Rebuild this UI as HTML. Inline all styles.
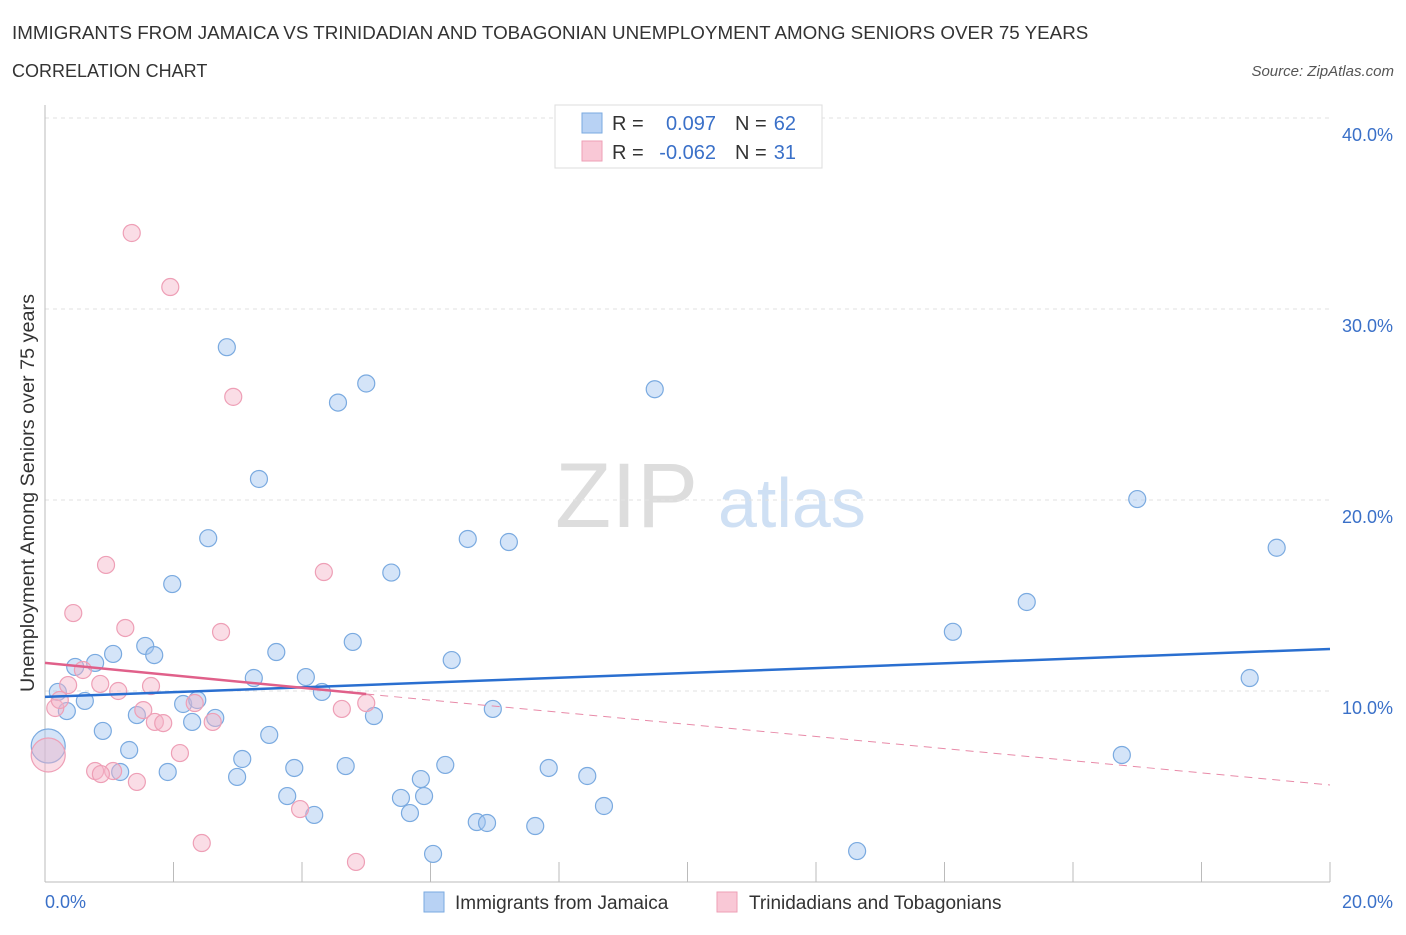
<!DOCTYPE html>
<html><head><meta charset="utf-8"><style>
body{margin:0;background:#fff;font-family:"Liberation Sans",sans-serif;}
svg text{font-family:"Liberation Sans",sans-serif;}
</style></head><body>
<svg id="chart" width="1406" height="930" xmlns="http://www.w3.org/2000/svg">
<text x="12" y="39" font-size="18.8" fill="#333">IMMIGRANTS FROM JAMAICA VS TRINIDADIAN AND TOBAGONIAN UNEMPLOYMENT AMONG SENIORS OVER 75 YEARS</text>
<text x="12" y="77" font-size="18" fill="#333">CORRELATION CHART</text>
<text x="1394" y="76" font-size="15" fill="#555" text-anchor="end" font-style="italic">Source: ZipAtlas.com</text>
<text x="555" y="527" font-size="92" fill="#ddd" font-family="Liberation Serif">ZIP</text>
<text x="718" y="527" font-size="70" fill="#cfe0f4">atlas</text>
<g id="grid"></g>
<g id="axes"></g>
<g id="pts"></g>
<g id="trend"></g>
<text transform="translate(34,493) rotate(-90)" font-size="19.8" fill="#333" text-anchor="middle">Unemployment Among Seniors over 75 years</text>
<text x="45" y="908" font-size="18" fill="#3a70c8">0.0%</text>
<text x="1393" y="908" font-size="18" fill="#3a70c8" text-anchor="end">20.0%</text>
<g>
<rect x="555" y="105" width="267" height="63" fill="#fff" stroke="#ddd"/>
<rect x="582" y="113" width="20" height="20" fill="#b8d2f4" stroke="#7aaae0"/>
<rect x="582" y="141" width="20" height="20" fill="#f9c8d6" stroke="#ee9fb6"/>
<text x="612" y="130" font-size="20" fill="#333">R =</text>
<text x="716" y="130" font-size="20" fill="#3a70c8" text-anchor="end">0.097</text>
<text x="735" y="130" font-size="20" fill="#333">N =</text>
<text x="796" y="130" font-size="20" fill="#3a70c8" text-anchor="end">62</text>
<text x="612" y="159" font-size="20" fill="#333">R =</text>
<text x="716" y="159" font-size="20" fill="#3a70c8" text-anchor="end">-0.062</text>
<text x="735" y="159" font-size="20" fill="#333">N =</text>
<text x="796" y="159" font-size="20" fill="#3a70c8" text-anchor="end">31</text>
</g>
<g>
<rect x="424" y="892" width="20" height="20" fill="#b8d2f4" stroke="#7aaae0"/>
<text x="455" y="909" font-size="19" fill="#333">Immigrants from Jamaica</text>
<rect x="717" y="892" width="20" height="20" fill="#f9c8d6" stroke="#ee9fb6"/>
<text x="749" y="909" font-size="19" fill="#333">Trinidadians and Tobagonians</text>
</g>
</svg>
<script>
const yTicks=[10,20,30,40];
const yTickLabels=["10.0%","20.0%","30.0%","40.0%"];
const xTicks=[2,4,6,8,10,12,14,16,18,20];
const blueX=[2.83,5.0,4.56,9.49,3.33,2.54,6.58,7.22,5.39,1.98,17.0,19.17,15.28,14.13,1.56,1.70,1.06,4.79,3.6,6.33,0.78,0.47,3.25,4.06,18.75,0.2,0.62,0.34,2.15,2.37,4.31,6.97,1.43,2.65,2.29,5.12,0.9,3.49,1.31,3.07,16.76,4.68,3.88,6.23,1.91,1.17,2.99,7.84,8.44,5.85,3.77,5.54,5.9,8.7,5.68,4.19,6.72,6.88,7.63,6.04,12.64,0.05];
const blueY=[28.0,26.1,25.1,25.8,21.1,18.0,17.96,17.8,16.2,15.6,20.05,17.5,14.66,13.1,12.36,11.88,11.94,12.57,12.04,11.62,11.47,11.26,10.68,10.73,10.68,9.95,9.48,8.95,9.32,9.53,9.95,9.06,8.74,8.59,8.38,8.69,7.91,7.7,6.91,6.44,6.65,6.07,5.97,6.13,5.76,5.76,5.5,5.97,5.55,5.39,4.5,4.4,4.5,3.98,3.61,3.51,3.14,3.09,2.93,1.47,1.62,7.12];
const pinkX=[1.35,1.95,2.93,0.95,4.34,0.44,1.25,2.74,0.59,0.36,0.86,1.65,1.14,0.16,0.23,2.33,4.62,5.0,1.53,1.71,1.84,2.61,2.1,0.78,1.06,0.87,1.43,3.97,2.44,4.84,0.05];
const pinkY=[33.98,31.15,25.4,16.6,16.23,14.08,13.3,13.09,11.1,10.31,10.37,10.26,10.0,9.11,9.53,9.37,9.06,9.37,9.0,8.38,8.32,8.38,6.75,5.81,5.81,5.65,5.24,3.82,2.04,1.05,6.65];
const blueTrend=[[0,9.69],[20,12.2]];
const pinkTrendSolid=[[0,11.47],[5,9.84]];
const pinkTrendDash=[[5,9.84],[20,5.08]];
const X=v=>45+v/20*1285, Y=v=>882-v/10*191;
const NS="http://www.w3.org/2000/svg";
function mk(parent,tag,attrs){const e=document.createElementNS(NS,tag);for(const k in attrs)e.setAttribute(k,attrs[k]);document.getElementById(parent).appendChild(e);return e;}
yTicks.forEach((t,i)=>{
 const l=mk('grid','line',{x1:45,x2:1330,y1:Y(t),y2:Y(t),stroke:'#e2e2e2','stroke-dasharray':'4,4'});
 
 
 const tx=mk('grid','text',{x:1393,y:Y(t)+23,'font-size':18,fill:'#3a70c8','text-anchor':'end'});
 tx.textContent=yTickLabels[i];
 
 
});
const ax=mk('axes','line',{x1:45,x2:45,y1:105,y2:882,stroke:'#bbb'});


const bx=mk('axes','line',{x1:45,x2:1330,y1:882,y2:882,stroke:'#bbb'});


xTicks.forEach(t=>{
 const l=mk('axes','line',{x1:X(t),x2:X(t),y1:862,y2:882,stroke:'#bbb'});
 
 
});
function dots(xs,ys,fill,stroke,name){
 xs.forEach((x,i)=>{
  const big=i===xs.length-1;
  const c=mk('pts','circle',{cx:X(x),cy:Y(ys[i]),r:big?17:8.5,fill:fill,stroke:stroke,'stroke-width':1.2});
  
  
 });
}
dots(blueX,blueY,'rgba(160,196,240,0.45)','#7aaae0','jamaica-point');
dots(pinkX,pinkY,'rgba(244,180,200,0.45)','#ee9fb6','trinidad-point');
function line(p,stroke,w,dash,name){
 const l=mk('trend','line',{x1:X(p[0][0]),y1:Y(p[0][1]),x2:X(p[1][0]),y2:Y(p[1][1]),stroke:stroke,'stroke-width':w});
 if(dash)l.setAttribute('stroke-dasharray',dash);
 
 
}
line(blueTrend,'#2a6fd0',2.5,null,'jamaica-trendline');
line(pinkTrendSolid,'#e0608a',2.5,null,'trinidad-trendline');
line(pinkTrendDash,'#e88aa8',1,'8,6','trinidad-trendline-extension');
</script>
</body></html>
